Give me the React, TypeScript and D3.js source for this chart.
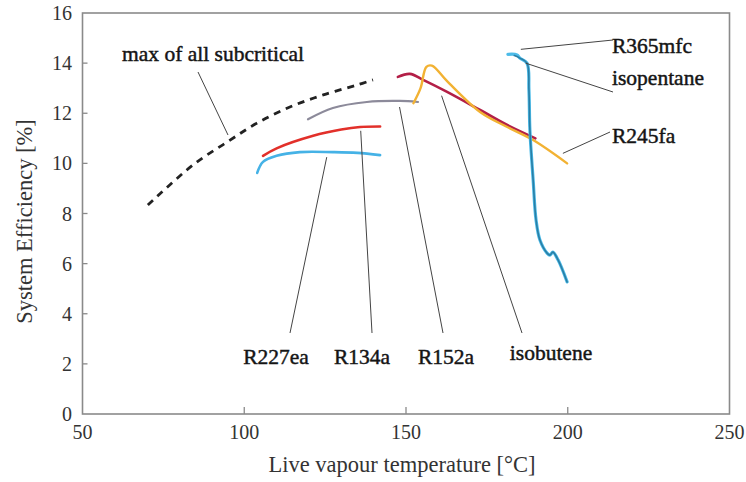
import React from "react";
import * as d3 from "d3";

const xTicks = [50, 100, 150, 200, 250];
const yTicks = [0, 2, 4, 6, 8, 10, 12, 14, 16];

const maxSubT = [70.2, 84.2, 94.7, 104, 114.1, 124.4, 134.9, 139.8];
const maxSubE = [8.34, 9.94, 10.85, 11.61, 12.25, 12.73, 13.13, 13.33];

const r227eaT = [104, 105.8, 110, 117.2, 127.4, 135, 142];
const r227eaE = [9.62, 10.06, 10.3, 10.45, 10.45, 10.42, 10.33];

const r134aT = [105.8, 110, 121.3, 130, 135.8, 142];
const r134aE = [10.3, 10.6, 11.1, 11.35, 11.45, 11.47];

const r152aT = [119.7, 127.4, 137.9, 148.1, 153.7];
const r152aE = [11.76, 12.21, 12.45, 12.49, 12.45];

const r245faT = [152.3, 154.5, 156.3, 158, 162.7, 172.9, 181.3, 189.3, 199.8];
const r245faE = [12.4, 13.0, 13.85, 13.9, 13.28, 12.05, 11.45, 10.93, 10.0];

const isobuteneT = [147.5, 151.2, 155.3, 162.7, 172.9, 181, 190];
const isobuteneE = [13.45, 13.57, 13.33, 12.85, 12.13, 11.55, 11.0];

const r365mfcT = [181.5, 184.3, 185.2, 187.4, 188.0, 188.3, 189.3, 190.2, 191.4, 193.6, 194.5, 195.4, 197.0, 199.8];
const r365mfcE = [14.35, 14.33, 14.2, 14.0, 12.93, 11.33, 9.34, 7.74, 6.94, 6.42, 6.34, 6.46, 6.15, 5.27];

const isopentaneT = [183.5, 185.2, 187.4, 188.0, 188.3, 189.3, 190.2, 191.4, 193.6, 194.5, 195.4, 197.0, 199.8];
const isopentaneE = [14.3, 14.2, 14.0, 12.93, 11.33, 9.34, 7.74, 6.94, 6.42, 6.34, 6.46, 6.15, 5.27];

const W = 746;
const H = 482;
const left = 82.5;
const right = 729.5;
const top = 13;
const bottom = 414;

const FONT = "'Liberation Serif', 'DejaVu Serif', serif";

export default function App() {
  const x = d3.scaleLinear().domain([50, 250]).range([left, right]);
  const y = d3.scaleLinear().domain([0, 16]).range([bottom, top]);

  const mk = (ts: number[], es: number[]) =>
    d3
      .line<number>()
      .x((_, i) => x(ts[i]))
      .y((_, i) => y(es[i]))
      .curve(d3.curveCatmullRom.alpha(0.5))(ts) as string;

  const series = [
    { t: r227eaT, e: r227eaE, color: "#45b2e6", w: 2.6 },
    { t: r134aT, e: r134aE, color: "#e2302a", w: 2.6 },
    { t: r152aT, e: r152aE, color: "#8c8a9a", w: 2.2 },
    { t: isobuteneT, e: isobuteneE, color: "#b31f47", w: 2.6 },
    { t: r245faT, e: r245faE, color: "#f2b233", w: 2.4 },
    { t: r365mfcT, e: r365mfcE, color: "#4cbbe8", w: 3.2 },
    { t: isopentaneT, e: isopentaneE, color: "#2a7fa6", w: 1.6 },
  ];

  const labels = [
    { text: "R227ea", lx: 276, ly: 364, px: 290, py: 333, dt: 125.5, de: 10.25 },
    { text: "R134a", lx: 362, ly: 364, px: 372, py: 333, dt: 136, de: 11.3 },
    { text: "R152a", lx: 446, ly: 364, px: 443, py: 333, dt: 148, de: 12.25 },
    { text: "isobutene", lx: 551, ly: 360, px: 522, py: 333, dt: 161, de: 12.7 },
  ];

  const rightLabels = [
    { text: "R365mfc", lx: 612, ly: 53, px: 613, py: 40, dt: 185.5, de: 14.55 },
    { text: "isopentane", lx: 612, ly: 85, px: 613, py: 92, dt: 187, de: 14.0 },
    { text: "R245fa", lx: 612, ly: 143, px: 610, py: 132, dt: 198.5, de: 10.4 },
  ];

  const labelStyle = {
    fontSize: 21.5,
    fill: "#151515",
    stroke: "#151515",
    strokeWidth: 0.45,
  } as const;

  return (
    <svg
      width={W}
      height={H}
      style={{ position: "absolute", left: 0, top: 0, background: "#fff" }}
      fontFamily={FONT}
    >
      <rect x={0} y={0} width={W} height={H} fill="#fff" />
      <rect
        x={left}
        y={top}
        width={right - left}
        height={bottom - top}
        fill="none"
        stroke="#8a8a8a"
        strokeWidth={1.6}
      />
      {yTicks.map((v) => (
        <g key={"y" + v}>
          {v > 0 && v < 16 && (
            <line x1={left} x2={left + 5} y1={y(v)} y2={y(v)} stroke="#8a8a8a" strokeWidth={1.3} />
          )}
          <text x={72} y={y(v)} dy="0.35em" textAnchor="end" fontSize={20} fill="#333">
            {v}
          </text>
        </g>
      ))}
      {xTicks.map((v) => (
        <g key={"x" + v}>
          {v > 50 && v < 250 && (
            <line x1={x(v)} x2={x(v)} y1={bottom} y2={bottom - 7} stroke="#8a8a8a" strokeWidth={1.3} />
          )}
          <text x={x(v)} y={439} textAnchor="middle" fontSize={20} fill="#333">
            {v}
          </text>
        </g>
      ))}
      <text x={(left + right) / 2 - 4} y={472} textAnchor="middle" fontSize={22.5} fill="#333">
        Live vapour temperature [°C]
      </text>
      <text
        transform={`translate(32, ${(top + bottom) / 2 + 8}) rotate(-90)`}
        textAnchor="middle"
        fontSize={22.5}
        fill="#333"
      >
        System Efficiency [%]
      </text>

      <path
        d={mk(maxSubT, maxSubE)}
        fill="none"
        stroke="#222"
        strokeWidth={2.8}
        strokeDasharray="7,6"
      />

      {series.map((s, i) => (
        <path key={i} d={mk(s.t, s.e)} fill="none" stroke={s.color} strokeWidth={s.w} strokeLinejoin="round" strokeLinecap="round" />
      ))}

      <text x={122} y={61} {...labelStyle}>
        max of all subcritical
      </text>
      <line x1={198} y1={72} x2={228} y2={135} stroke="#444" strokeWidth={1} />

      {labels.map((l) => (
        <g key={l.text}>
          <line x1={x(l.dt)} y1={y(l.de)} x2={l.px} y2={l.py} stroke="#444" strokeWidth={1} />
          <text x={l.lx} y={l.ly} textAnchor="middle" {...labelStyle}>
            {l.text}
          </text>
        </g>
      ))}
      {rightLabels.map((l) => (
        <g key={l.text}>
          <line x1={x(l.dt)} y1={y(l.de)} x2={l.px} y2={l.py} stroke="#444" strokeWidth={1} />
          <text x={l.lx} y={l.ly} {...labelStyle}>
            {l.text}
          </text>
        </g>
      ))}
    </svg>
  );
}
